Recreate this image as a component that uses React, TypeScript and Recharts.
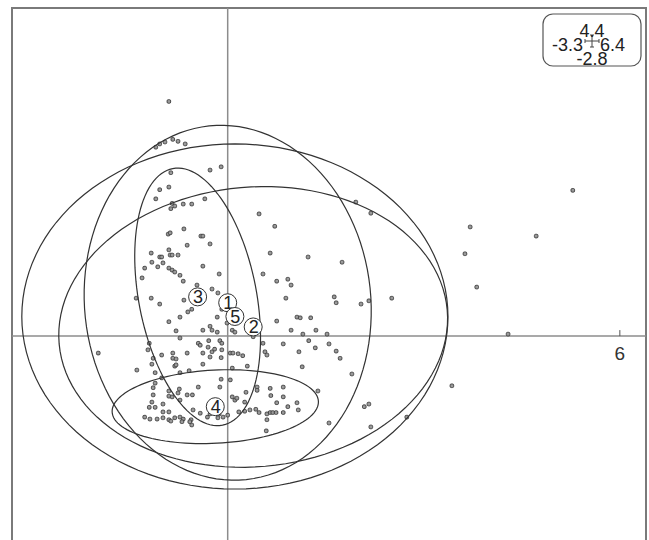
import { ScatterChart, Scatter, XAxis, YAxis, ReferenceLine, ReferenceArea, ReferenceDot } from 'recharts'

// observed rows (axis 1, axis 2)
const obsX = [
  -0.9, -1.1, -1.04, -0.96, -0.84, -0.76, -0.65, -0.27, -0.1, -0.87, -1.04, -0.9, -1.1, -0.85, -0.87, -0.81,
  -0.68, -0.55, -0.35, 0.48, 0.72, -0.67, -0.91, -0.88, -0.41, -0.38, -0.9, -0.62, -0.27, -1.17, -1.04, -1.01,
  -0.88, -0.85, -0.76, -1.16, -0.99, -1.07, -1.27, -0.38, -0.9, -0.85, -0.81, -0.73, -0.68, -0.13, -1.31, -0.47,
  -0.24, -0.15, -1.4, -1.17, -1.04, -0.67, -0.55, -0.61, -0.73, -0.9, -0.16, -0.09, -0.79, -0.73, -0.38, -0.27,
  -0.24, -0.16, -0.01, 0.07, 0.11, 0.54, 0.75, 0.75, -0.45, -0.29, -0.12, -0.09, 0.39, 0.54, -1.98, -1.39,
  1.96, 2.19, 0.65, 1.23, 1.75, 0.92, 0.97, 0.89, 1.63, 1.66, 2.04, 2.16, 2.51, 1.06, 1.11, 1.27, 0.97, 1.15,
  1.35, 1.52, 5.28, 3.71, 4.72, 3.63, 3.81, 4.29, 3.43, 2.74,
  0.85, 1.24, 1.34, 1.55, 1.66, 1.72, 0.57, 0.6, 1.09, 1.14, 1.9, 0.65, 0.85, 0.66, 0.85, 0.75, 0.92, 1.06,
  1.08, 0.85, 0.6, 0.65, 0.69, 0.74, 0.6, 0.59, 1.38, 1.55, 2.09, 2.16, 2.19,
  -1.2, -1.22, -1.14, -1.16, -1.11, -1.01, -0.84, -0.84, -0.62, -0.81, -0.73, -0.59, -1.01, -1.14, -1.14, -0.9,
  -0.9, -0.85, -0.76, -0.73, -0.99, -1.2, -1.11, -0.9, -0.99, -1.27, -1.19, -1.08, -0.99, -0.9, -0.81, -0.73,
  -0.68, -0.53, -0.56, -0.55, -0.45, -0.12, 0.04, -0.27, -0.13, -0.15, 0.0, 0.11, 0.07, 0.28, 0.45, 0.45,
  0.17, 0.26, 0.34, 0.43, 0.48, 0.3, 0.04, 0.08, 0.16, 0.23, -0.42, -0.3, -0.24, -0.38, -0.27, -0.38,
  -0.1, -0.79, -0.79, 0.07, -0.09, -0.1, -0.2, -1.11, -1.16, -0.87, -0.7, -0.58, -0.42, -0.31, -0.07, 0.14,
  0.26, -0.62, -0.54, -0.74,
]
const obsY = [
  3.59, 2.89, 2.94, 2.97, 3.01, 2.98, 2.94, 2.54, 2.59, 2.5, 2.24, 2.28, 2.1, 2.03, 1.95, 1.99,
  2.02, 2.02, 2.1, 1.87, 1.68, 1.64, 1.56, 1.58, 1.53, 1.53, 1.32, 1.39, 1.41, 1.27, 1.21, 1.21,
  1.24, 1.24, 1.24, 1.13, 1.12, 1.06, 1.04, 1.07, 1.04, 1.01, 0.98, 0.93, 0.84, 0.95, 0.89, 0.78,
  0.72, 0.66, 0.58, 0.58, 0.49, 0.55, 0.41, 0.37, 0.29, 0.22, 0.29, 0.41, 0.08, -0.03, 0.09, 0.15,
  0.09, 0.06, 0.2, 0.09, 0.06, 0.95, 0.84, 0.23, -0.11, -0.07, -0.07, -0.11, -0.01, -0.11, -0.26, -0.52,
  2.05, 1.88, 1.27, 1.21, 1.13, 0.87, 0.78, 0.58, 0.6, 0.51, 0.49, 0.54, 0.58, 0.29, 0.28, 0.28, 0.09, 0.03,
  0.09, 0.03, 2.23, 1.67, 1.53, 1.26, 0.75, 0.03, -0.76, -1.24,
  -0.12, -0.07, -0.18, -0.12, -0.23, -0.34, -0.24, -0.29, -0.24, -0.47, -0.58, -0.8, -0.78, -0.91, -0.93, -1.02, -1.08, -1.02,
  -1.13, -1.17, -1.19, -1.17, -1.17, -1.17, -1.28, -1.45, -0.84, -1.33, -1.08, -1.04, -1.39,
  -0.11, -0.21, -0.34, -0.43, -0.56, -0.29, -0.26, -0.34, -0.26, -0.46, -0.56, -0.53, -0.64, -0.79, -0.9, -0.84,
  -0.92, -0.93, -0.87, -0.98, -1.04, -1.09, -1.09, -1.16, -1.16, -1.24, -1.27, -1.27, -1.25, -1.28, -1.25, -1.24,
  -1.27, -1.13, -1.28, -1.36, -0.78, -0.78, -0.67, -1.19, -1.19, -1.25, -1.21, -0.98, -0.93, -0.86, -0.78, -0.83,
  -1.16, -1.15, -1.13, -1.12, -1.17, -0.46, -0.26, -0.26, -0.27, -0.3, -0.14, -0.17, -0.24, -0.26, -0.32, -0.43,
  -0.66, -0.35, -0.44, -0.49, -0.21, -0.33, -0.2, -0.72, -1.01, -1.3, -1.31, -1.31, -1.18, -1.24, -1.24, -0.95,
  -1.01, -0.9, -0.9, -0.81,
]

// class gravity centres and ellipse parameters
const classLabels = ['1', '2', '3', '4', '5']
const classX = [0.0, 0.39, -0.46, -0.19, 0.11]
const classY = [0.51, 0.14, 0.6, -1.08, 0.3]
const ellA = [2.72, 2.98, 2.0, 1.58, 3.26]
const ellB = [2.19, 2.14, 0.9, 0.56, 2.64]
const ellAngle = [96, 5, 101, 3, 0]

const xDomain = [-3.3, 6.4]
const yDomain = [-3.12, 5.02]

const points = obsX.map((x, i) => ({ x, y: obsY[i] }))
const centers = classLabels.map((label, i) => ({ x: classX[i], y: classY[i], label }))

function ellipse(i: number) {
  const th = (ellAngle[i] * Math.PI) / 180
  const out = []
  for (let k = 0; k <= 120; k++) {
    const t = (k / 120) * 2 * Math.PI
    const u = ellA[i] * Math.cos(t)
    const v = ellB[i] * Math.sin(t)
    out.push({ x: classX[i] + u * Math.cos(th) - v * Math.sin(th), y: classY[i] + u * Math.sin(th) + v * Math.cos(th) })
  }
  return out
}

const FONT = '"Liberation Sans", Arial, sans-serif'

const Dot = (p: any) => (
  <rect x={p.cx - 1.8} y={p.cy - 1.8} width={3.6} height={3.6} rx={1.2} fill="#9a9a9a" stroke="#3a3a3a" strokeWidth={0.9} />
)

const ClassLabel = (p: any) => (
  <g>
    <circle cx={p.cx} cy={p.cy} r={9} fill="#fff" stroke="#333" strokeWidth={1} />
    <text x={p.cx + 0.5} y={p.cy + 6.5} textAnchor="middle" fontSize={18} fontFamily={FONT} fill="#222" stroke="none">
      {p.payload.label}
    </text>
  </g>
)

const TickSix = (p: any) => (
  <g>
    <line x1={p.cx} x2={p.cx} y1={p.cy - 6} y2={p.cy} stroke="#555" strokeWidth={1} />
    <text x={p.cx} y={p.cy + 24} textAnchor="middle" fontSize={19} fontFamily={FONT} fill="#333">
      6
    </text>
  </g>
)

export default function App() {
  return (
    <div style={{ position: 'absolute', left: 0, top: 0, width: 649, height: 540, background: '#fff' }}>
      <ScatterChart width={649} height={540} margin={{ top: 8, right: 3, bottom: 0, left: 12 }}>
        <XAxis type="number" dataKey="x" domain={xDomain} hide allowDataOverflow />
        <YAxis type="number" dataKey="y" domain={yDomain} hide allowDataOverflow />
        <ReferenceArea x1={xDomain[0]} x2={xDomain[1]} y1={yDomain[0] - 0.2} y2={yDomain[1]} fill="none" stroke="#7a7a7a" strokeWidth={2} ifOverflow="visible" />
        <ReferenceLine x={0} stroke="#8c8c8c" strokeWidth={1.5} />
        <ReferenceLine y={0} stroke="#8c8c8c" strokeWidth={1.5} />
        <ReferenceDot x={6} y={0} r={0} shape={TickSix} />
        <Scatter data={points} shape={Dot} isAnimationActive={false} />
        {classLabels.map((_, i) => (
          <Scatter
            key={i}
            data={ellipse(i)}
            line={{ stroke: '#333', strokeWidth: 1.2 }}
            lineType="joint"
            shape={() => <g />}
            isAnimationActive={false}
          />
        ))}
        <Scatter data={centers} shape={ClassLabel} isAnimationActive={false} />
      </ScatterChart>
      <svg width={649} height={540} style={{ position: 'absolute', left: 0, top: 0, pointerEvents: 'none' }}>
        <rect x={543} y={14} width={98} height={52} rx={10} fill="none" stroke="#555" strokeWidth={1.2} />
        <g stroke="#444" strokeWidth={1}>
          <line x1={585} x2={599} y1={41} y2={41} />
          <line x1={585} x2={585} y1={39} y2={43} />
          <line x1={599} x2={599} y1={39} y2={43} />
          <line x1={592} x2={592} y1={35} y2={47} />
          <line x1={590} x2={594} y1={35} y2={35} />
          <line x1={590} x2={594} y1={47} y2={47} />
        </g>
        <g fontFamily={FONT} fontSize={18} fill="#222">
          <text x={592} y={37} textAnchor="middle">4.4</text>
          <text x={583} y={51} textAnchor="end">-3.3</text>
          <text x={600} y={51} textAnchor="start">6.4</text>
          <text x={592} y={65} textAnchor="middle">-2.8</text>
        </g>
      </svg>
    </div>
  )
}
